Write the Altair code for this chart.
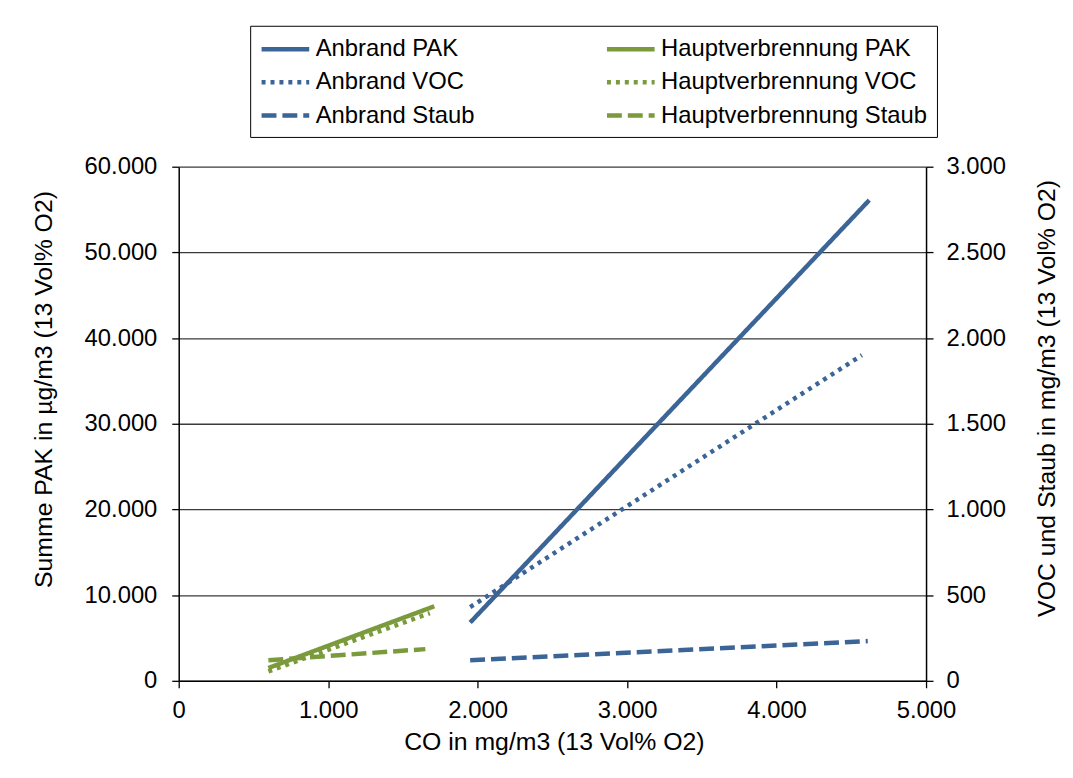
import altair as alt
import pandas as pd

# ---- data ----
series_order = ["Anbrand PAK", "Anbrand VOC", "Anbrand Staub",
                "Hauptverbrennung PAK", "Hauptverbrennung VOC", "Hauptverbrennung Staub"]
series_colors = ["#3B6497", "#3B6497", "#3B6497", "#7A9A3C", "#7A9A3C", "#7A9A3C"]
series_dash = [[1, 0], [4, 5], [15, 6], [1, 0], [4, 5], [15, 6]]

anbrand_pak_co = [1950, 4620]
anbrand_pak = [6800, 56100]
haupt_pak_co = [600, 1710]
haupt_pak = [1500, 8700]

anbrand_voc_co = [1950, 4570]
anbrand_voc = [430, 1900]
haupt_voc_co = [600, 1680]
haupt_voc = [55, 395]

anbrand_staub_co = [1950, 4610]
anbrand_staub = [120, 232]
haupt_staub_co = [600, 1650]
haupt_staub = [120, 185]

x_ticks = [0, 1000, 2000, 3000, 4000, 5000]
left_ticks = [0, 10000, 20000, 30000, 40000, 50000, 60000]
right_ticks = [0, 500, 1000, 1500, 2000, 2500, 3000]


def rows(name, xs, ys):
    return [{"series": name, "co": x, "val": y, "order": i} for i, (x, y) in enumerate(zip(xs, ys))]


left_df = pd.DataFrame(rows("Anbrand PAK", anbrand_pak_co, anbrand_pak)
                       + rows("Hauptverbrennung PAK", haupt_pak_co, haupt_pak))
right_df = pd.DataFrame(rows("Anbrand VOC", anbrand_voc_co, anbrand_voc)
                        + rows("Hauptverbrennung VOC", haupt_voc_co, haupt_voc)
                        + rows("Anbrand Staub", anbrand_staub_co, anbrand_staub)
                        + rows("Hauptverbrennung Staub", haupt_staub_co, haupt_staub))

FONT = "Liberation Sans"
FS = 24
TFS = 25
label_expr = "replace(format(datum.value, ',d'), ',', '.')"

axis_style = dict(labelFont=FONT, titleFont=FONT, labelFontSize=FS, titleFontSize=TFS,
                  labelColor="#000000", titleColor="#000000", titleFontWeight="normal",
                  domainColor="#000000", domainWidth=1.5, tickColor="#000000", tickWidth=1.3,
                  tickSize=7, labelFlush=False)

x_enc = alt.X("co:Q",
              scale=alt.Scale(domain=[0, 5000], nice=False, zero=False),
              axis=alt.Axis(values=x_ticks, labelExpr=label_expr, grid=False,
                            title="CO in mg/m3 (13 Vol% O2)",
                            labelPadding=11,
                            titleX=378, titleY=69, titleBaseline="alphabetic",
                            titleAnchor="middle", titleAlign="center", **axis_style))

# legend line symbol: a path running from -r to 3r (length 4r = 48 px with size 576)
legend_style = dict(title=None, orient="none", legendX=72, legendY=-142,
                    columns=2, columnPadding=123, rowPadding=6.5,
                    symbolType="M-1,0L3,0", symbolSize=576,
                    symbolStrokeWidth=4.5, labelFontSize=FS,
                    labelFont=FONT, labelColor="#000000",
                    labelLimit=400, labelOffset=28,
                    strokeColor="#000000", padding=9,
                    fillColor="#ffffff")

color_enc = alt.Color("series:N",
                      scale=alt.Scale(domain=series_order, range=series_colors),
                      legend=alt.Legend(**legend_style))
dash_enc = alt.StrokeDash("series:N",
                          scale=alt.Scale(domain=series_order, range=series_dash),
                          legend=alt.Legend(**legend_style))

left = alt.Chart(left_df).mark_line(strokeWidth=4.5, strokeCap="butt").encode(
    x=x_enc,
    y=alt.Y("val:Q",
            scale=alt.Scale(domain=[0, 60000], nice=False),
            axis=alt.Axis(values=left_ticks, labelExpr=label_expr, orient="left",
                          title="Summe PAK in µg/m3 (13 Vol% O2)",
                          grid=True, gridColor="#3a3a3a", gridWidth=1.3,
                          labelPadding=15,
                          titleAngle=-90, titleX=-136, titleY=224,
                          titleAlign="center", titleBaseline="middle", **axis_style)),
    color=color_enc,
    strokeDash=dash_enc,
    order="order:O",
)

right = alt.Chart(right_df).mark_line(strokeWidth=4.5, strokeCap="butt").encode(
    x=x_enc,
    y=alt.Y("val:Q",
            scale=alt.Scale(domain=[0, 3000], nice=False),
            axis=alt.Axis(values=right_ticks, labelExpr=label_expr, orient="right",
                          title="VOC und Staub in mg/m3 (13 Vol% O2)",
                          grid=False, labelPadding=13,
                          titleAngle=-90, titleX=121, titleY=233,
                          titleAlign="center", titleBaseline="middle", **axis_style)),
    color=color_enc,
    strokeDash=dash_enc,
    order="order:O",
)

chart = alt.layer(left, right).resolve_scale(y="independent").properties(
    width=753, height=518,
    background="#ffffff",
    autosize=alt.AutoSizeParams(type="none"),
    padding={"left": 172, "top": 157, "right": 140, "bottom": 95},
).configure_view(stroke=None)

chart.save("out.html", embed_options={"renderer": "svg", "actions": False})
